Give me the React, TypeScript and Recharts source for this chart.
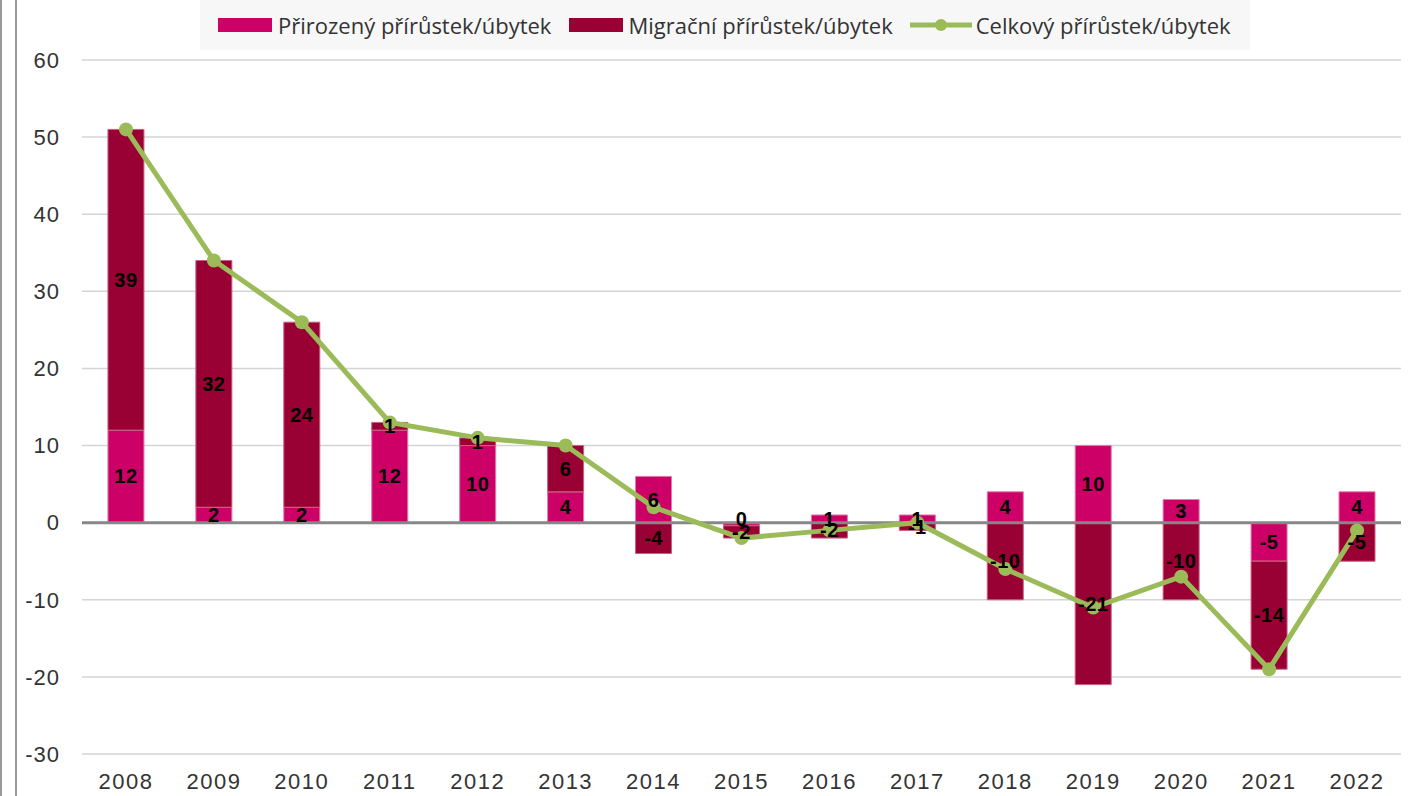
import React from "react";
import {
  ComposedChart,
  Bar,
  Line,
  CartesianGrid,
  XAxis,
  YAxis,
  LabelList,
  ReferenceLine
} from "recharts";

const years = ["2008", "2009", "2010", "2011", "2012", "2013", "2014", "2015", "2016", "2017", "2018", "2019", "2020", "2021", "2022"];
// 2015: natural change shows as "0", migration as "-2", total -2
const natural = [12, 2, 2, 12, 10, 4, 6, -0.4, 1, 1, 4, 10, 3, -5, 4];
const migration = [39, 32, 24, 1, 1, 6, -4, -1.6, -2, -1, -10, -21, -10, -14, -5];
const total = [51, 34, 26, 13, 11, 10, 2, -2, -1, 0, -6, -11, -7, -19, -1];
const yTicks = [-30, -20, -10, 0, 10, 20, 30, 40, 50, 60];

const PINK = "#cc0066";
const WINE = "#990033";
const GREEN = "#9bbb59";

const data = years.map((year, i) => ({
  year,
  natural: natural[i],
  migration: migration[i],
  total: total[i]
}));

function LegendBox() {
  const text = { fontFamily: "'Liberation Sans Narrow', 'Open Sans', sans-serif", fontSize: 22, color: "#333" };
  return (
    <div
      style={{
        position: "absolute",
        left: 200,
        top: 0,
        width: 1050,
        height: 50,
        display: "flex",
        alignItems: "center",
        background: "#f7f7f7",
        paddingLeft: 18,
        boxSizing: "border-box"
      }}
    >
      <span style={{ width: 54, height: 14, background: PINK, marginRight: 6 }} />
      <span style={{ ...text, marginRight: 18 }}>Přirozený přírůstek/úbytek</span>
      <span style={{ width: 54, height: 14, background: WINE, marginRight: 5 }} />
      <span style={{ ...text, marginRight: 17 }}>Migrační přírůstek/úbytek</span>
      <svg width={62} height={14} style={{ marginRight: 4 }}>
        <line x1={0} y1={7} x2={62} y2={7} stroke={GREEN} strokeWidth={5} />
        <circle cx={31} cy={7} r={6} fill={GREEN} />
      </svg>
      <span style={text}>Celkový přírůstek/úbytek</span>
    </div>
  );
}

const FONT = "'Liberation Sans', Arial, sans-serif";

// centred value label, rounded to whole numbers like the source chart
function SegmentLabel(props: any) {
  const { x, y, width, height, value } = props;
  if (value === undefined || value === null) return null;
  const rounded = Math.round(Number(value));
  const shown = rounded === 0 ? "0" : String(rounded);
  const cx = Number(x) + Number(width) / 2;
  const cy = Number(y) + Number(height) / 2;
  const shift = rounded === 0 ? -5 : 0;
  return (
    <text
      x={cx}
      y={cy + shift}
      textAnchor="middle"
      dominantBaseline="central"
      fill="#000"
      fontWeight={700}
      fontSize={20}
      fontFamily={FONT}
      letterSpacing={0.5}
    >
      {shown}
    </text>
  );
}

export default function App() {
  return (
    <div style={{ position: "absolute", left: 0, top: 0, width: 1408, height: 796, background: "#fff" }}>
      <div style={{ position: "absolute", left: 0, top: 0, width: 2, height: 796, background: "#999" }} />
      <div style={{ position: "absolute", left: 15, top: 0, width: 2, height: 796, background: "#999" }} />
      <ComposedChart
        width={1408}
        height={796}
        data={data}
        stackOffset="sign"
        barCategoryGap="29.5%"
        margin={{ top: 60, right: 7, bottom: 0, left: 0 }}
      >
        <CartesianGrid vertical={false} stroke="#d4d4d4" strokeWidth={1.5} />
        <XAxis
          dataKey="year"
          axisLine={false}
          tickLine={false}
          height={42}
          tickMargin={13}
          tick={{ fill: "#333", fontSize: 22, fontFamily: FONT, letterSpacing: 1.5 }}
        />
        <YAxis
          domain={[-30, 60]}
          ticks={yTicks}
          interval={0}
          width={82}
          axisLine={false}
          tickLine={false}
          tickSize={0}
          tickMargin={22}
          tick={{ fill: "#333", fontSize: 22, fontFamily: FONT, letterSpacing: 1 }}
        />
        <Bar dataKey="natural" stackId="a" fill={PINK} stroke="#e07aa8" strokeWidth={1} isAnimationActive={false}>
          <LabelList dataKey="natural" content={SegmentLabel} />
        </Bar>
        <Bar dataKey="migration" stackId="a" fill={WINE} stroke="#c9607f" strokeWidth={1} isAnimationActive={false}>
          <LabelList dataKey="migration" content={SegmentLabel} />
        </Bar>
        <ReferenceLine y={0} stroke="#878787" strokeWidth={3} />
        <Line
          dataKey="total"
          stroke={GREEN}
          strokeWidth={5}
          dot={{ r: 7, fill: GREEN, stroke: GREEN, strokeWidth: 0 }}
          activeDot={false}
          isAnimationActive={false}
        />
      </ComposedChart>
      <LegendBox />
    </div>
  );
}
